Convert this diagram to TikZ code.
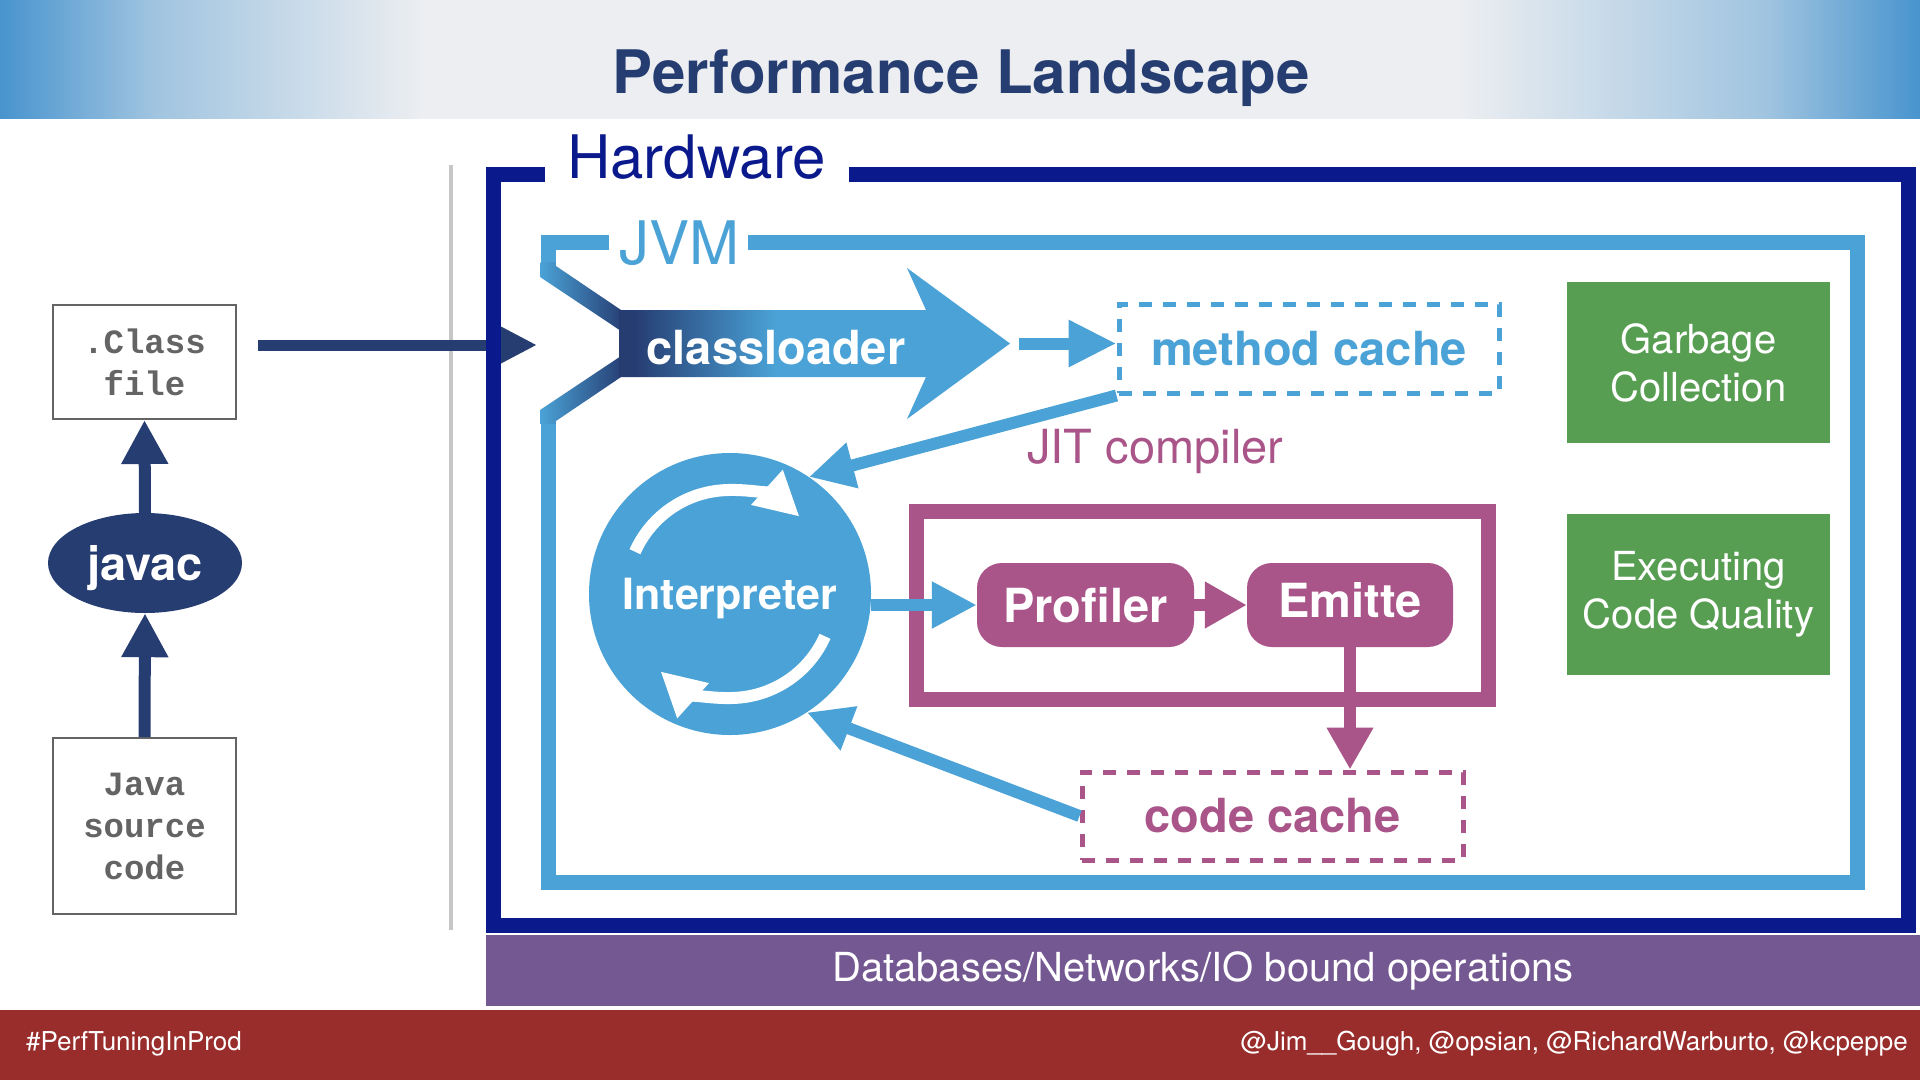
\documentclass[tikz,border=0pt]{standalone}
\usepackage{fontspec}
\setmainfont{TeX Gyre Heros}
\setmonofont{Liberation Mono}
\usepackage{tikz}
\usetikzlibrary{arrows.meta,positioning,shapes.geometric}
\definecolor{slatenavy}{RGB}{38,61,114}
\definecolor{hwnavy}{RGB}{10,26,140}
\definecolor{jvmblue}{RGB}{74,162,214}
\definecolor{jitpink}{RGB}{170,85,137}
\definecolor{gcgreen}{RGB}{88,158,82}
\definecolor{iopurple}{RGB}{116,88,146}
\definecolor{footred}{RGB}{152,45,43}
\definecolor{hdrblue}{RGB}{72,148,206}
\definecolor{hdrmid}{RGB}{160,196,224}
\definecolor{hdrlight}{RGB}{236,238,241}
\definecolor{boxgray}{RGB}{100,100,100}
\pgfdeclarehorizontalshading{hdrshade}{100bp}{color(0bp)=(hdrblue); color(25bp)=(hdrblue);
  color(29bp)=(hdrmid); color(36bp)=(hdrlight); color(63bp)=(hdrlight); color(71bp)=(hdrmid);
  color(75bp)=(hdrblue); color(100bp)=(hdrblue)}
\pgfdeclarehorizontalshading{clshade}{100bp}{color(0bp)=(slatenavy); color(27bp)=(slatenavy);
  color(45bp)=(jvmblue); color(100bp)=(jvmblue)}

\begin{document}
\begin{tikzpicture}[x=1pt, y=-1pt, every node/.style={inner sep=0pt},
  srcbox/.style={draw=boxgray, line width=2pt, fill=white, minimum width=183pt, align=center,
    text=boxgray, font=\ttfamily\bfseries\fontsize{34}{42}\selectfont},
  navyarrow/.style={slatenavy, line width=12pt, -{Triangle[length=44pt,width=44pt]}},
  bluearrow/.style={jvmblue, line width=12pt, -{Triangle[length=45pt,width=44pt]}},
  pinkarrow/.style={jitpink, line width=12pt, -{Triangle[length=42pt,width=44pt]}},
  cachebox/.style={dash pattern=on 13pt off 11pt, line width=5pt,
    font=\bfseries\fontsize{47}{56}\selectfont},
  jitnode/.style={fill=jitpink, rounded corners=25pt, minimum height=84pt, text=white,
    font=\bfseries\fontsize{47}{56}\selectfont},
  gcbox/.style={fill=gcgreen, minimum width=263pt, minimum height=161pt, align=center,
    text=white, font=\fontsize{40}{48}\selectfont}]

  \path[use as bounding box, fill=white] (0,0) rectangle (1920,1080);
  \shade[shading=hdrshade] (0,0) rectangle (1920,118);
  \node[anchor=base, text=slatenavy, font=\bfseries\fontsize{60}{72}\selectfont] (title)
    at (961,93) {Performance Landscape};

  \draw[gray!45, line width=4pt] (451,165) -- (451,930);

  \node[srcbox, minimum height=114pt] (cls) at (144.5,362) {.Class\\file};
  \node[srcbox, minimum height=176pt] (src) at (144.5,826) {Java\\source\\code};
  \node[ellipse, fill=slatenavy, minimum width=194pt, minimum height=100pt, text=white,
        text depth=0pt, font=\bfseries\fontsize{47}{56}\selectfont] (javac) at (145,563) {javac};
  \draw[navyarrow] (src.north) -- (javac.south);
  \draw[navyarrow] (javac.north) -- (cls.south);

  \coordinate (hwin) at (537,345);
  \draw[slatenavy, line width=11pt, shorten <=21pt, -{Triangle[length=40pt,width=38pt]}]
    (cls.east |- hwin) -- (hwin);

  \draw[hwnavy, line width=15pt] (545,174.5) -- (493,174.5) -- (493,925) -- (1908,925)
    -- (1908,174.5) -- (849,174.5);
  \node[anchor=base west, text=hwnavy, font=\fontsize{60}{72}\selectfont] (hwlabel)
    at (567,178) {Hardware};

  \draw[jvmblue, line width=15pt] (609,242) -- (548,242) -- (548,270);
  \draw[jvmblue, line width=15pt] (548,416) -- (548,882) -- (1857.5,882) -- (1857.5,242)
    -- (748,242);
  \node[anchor=base west, text=jvmblue, font=\fontsize{60}{72}\selectfont] (jvmlabel)
    at (619,264) {JVM};
  \shade[left color=jvmblue, right color=slatenavy] (540.5,262) -- (555.5,262) -- (555.5,265.7)
    -- (624,312) -- (624,333) -- (540.5,277.3) -- cycle;
  \shade[left color=jvmblue, right color=slatenavy] (540.5,424) -- (555.5,424) -- (555.5,421.3)
    -- (624,375) -- (624,354) -- (540.5,409.7) -- cycle;

  \shade[shading=clshade] (619,310) -- (926,310) -- (907,268) -- (1010,343.5) -- (907,419)
    -- (926,377) -- (619,377) -- cycle;
  \node[anchor=base, text=white, font=\bfseries\fontsize{47}{56}\selectfont] (cltext)
    at (776,364) {classloader};
  \coordinate (cltip) at (1010,343.5);

  \node[cachebox, draw=jvmblue, text=jvmblue, minimum width=380pt, minimum height=89pt] (mc)
    at (1309,348.5) {method cache};
  \draw[jvmblue, line width=12pt, shorten <=9pt, -{Triangle[length=48pt,width=44pt]}]
    (cltip) -- (cltip -| mc.west);

  \node[gcbox] (gc) at (1698.5,362.5) {Garbage\\Collection};
  \node[gcbox] (ecq) at (1698.5,594.5) {Executing\\Code Quality};

  \node[circle, fill=jvmblue, minimum size=282pt, text=white, text depth=0pt,
        font=\bfseries\fontsize{43}{52}\selectfont] (interp) at (730,594) {Interpreter};
  \draw[white, line width=12pt, -{Triangle[length=44pt,width=44pt]}]
    ([shift={(-156:104)}]interp.center) arc[start angle=-156, end angle=-48, radius=104];
  \draw[white, line width=12pt, -{Triangle[length=44pt,width=44pt]}]
    ([shift={(24:104)}]interp.center) arc[start angle=24, end angle=132, radius=104];

  \node[anchor=base west, text=jitpink, font=\fontsize{47}{56}\selectfont] (jitlabel)
    at (1027,463) {JIT compiler};
  \draw[jitpink, line width=15pt] (916.5,511.5) rectangle (1488,699.5);
  \node[jitnode, minimum width=217pt] (prof) at (1085.5,605) {Profiler};
  \node[jitnode, minimum width=206pt, text depth=10pt] (emit) at (1350,605) {Emitte};
  \node[cachebox, draw=jitpink, text=jitpink, minimum width=381pt, minimum height=88pt] (cc)
    at (1272.5,816) {code cache};

  \draw[bluearrow] (interp.east |- prof.west) -- (prof.west);
  \draw[pinkarrow] (prof) -- (emit);
  \draw[pinkarrow] (emit.south) -- (emit.south |- cc.north);
  \draw[bluearrow] (mc.south west) -- (interp.56);
  \draw[bluearrow] (cc.west) -- (interp.-57);

  \node[fill=iopurple, minimum width=1434pt, minimum height=71pt, text=white,
        font=\fontsize{40}{48}\selectfont] (io) at (1203,970.5)
    {Databases/Networks/IO bound operations};

  \fill[footred] (0,1010) rectangle (1920,1080);
  \node[anchor=base west, text=white, font=\fontsize{26}{31}\selectfont] (tag)
    at (26,1050) {\#PerfTuningInProd};
  \node[anchor=base east, text=white, font=\fontsize{26}{31}\selectfont] (handles)
    at (1908,1050) {@Jim\_\_Gough, @opsian, @RichardWarburto, @kcpeppe};
\end{tikzpicture}
\end{document}
